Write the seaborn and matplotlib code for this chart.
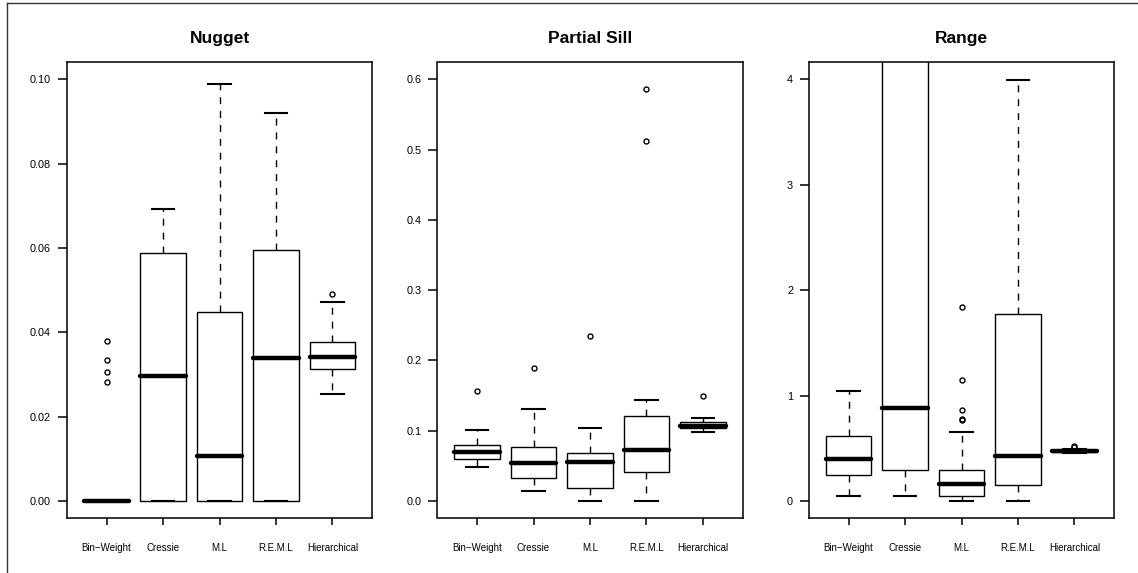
import matplotlib
matplotlib.use('Agg')
from matplotlib import pyplot as plt
from matplotlib.lines import Line2D
import seaborn as sns
import pandas as pd

methods = ['Bin\u2212Weight', 'Cressie', 'M.L', 'R.E.M.L', 'Hierarchical']

# Nugget estimates per method
nugget_bin = [0.0] * 17 + [0.0283, 0.0305, 0.0335, 0.0380]
nugget_cressie = [0.0, 0.0, 0.0, 0.012, 0.0296, 0.041, 0.0589, 0.064, 0.0692]
nugget_ml = [0.0, 0.0, 0.0, 0.004, 0.0107, 0.027, 0.0448, 0.071, 0.0988]
nugget_reml = [0.0, 0.0, 0.0, 0.016, 0.0340, 0.048, 0.0596, 0.078, 0.0921]
nugget_hier = [0.0254, 0.0285, 0.0302, 0.0314, 0.0325, 0.0334, 0.0341,
               0.0352, 0.0365, 0.0378, 0.0420, 0.0472, 0.0491]

# Partial sill estimates per method
sill_bin = [0.0483, 0.052, 0.057, 0.060, 0.063, 0.067, 0.0697,
            0.072, 0.076, 0.0795, 0.088, 0.101, 0.1573]
sill_cressie = [0.0147, 0.022, 0.028, 0.0325, 0.041, 0.049, 0.0547,
                0.062, 0.069, 0.0770, 0.095, 0.1308, 0.189]
sill_ml = [0.0, 0.006, 0.012, 0.019, 0.034, 0.047, 0.0555,
           0.060, 0.064, 0.0685, 0.085, 0.1038, 0.235]
sill_reml = [0.0, 0.018, 0.030, 0.0412, 0.052, 0.063, 0.073,
             0.088, 0.104, 0.1213, 0.1436, 0.5123, 0.5863]
sill_hier = [0.098, 0.100, 0.102, 0.1033, 0.1045, 0.1056, 0.1066,
             0.108, 0.110, 0.1118, 0.114, 0.1185, 0.1488]

# Range estimates per method
range_bin = [0.052, 0.15, 0.25, 0.33, 0.40, 0.50, 0.614, 0.82, 1.047]
range_cressie = [0.052, 0.17, 0.298, 0.56, 0.885, 2.6, 5.6, 8.1, 11.2]
range_ml = [0.0, 0.005, 0.012, 0.02, 0.028, 0.037, 0.045,
            0.065, 0.085, 0.105, 0.125, 0.145, 0.166,
            0.185, 0.205, 0.225, 0.25, 0.272, 0.294,
            0.658, 0.765, 0.78, 0.867, 1.152, 1.839]
range_reml = [0.0, 0.08, 0.152, 0.28, 0.424, 0.95, 1.772, 2.7, 3.99]
range_hier = [0.455, 0.458, 0.46, 0.462, 0.466, 0.469, 0.472,
              0.475, 0.478, 0.480, 0.49, 0.512, 0.525]


def MakeFrame(groups):
    rows = []
    for name, vals in zip(methods, groups):
        for v in vals:
            rows.append((name, v))
    return pd.DataFrame(rows, columns=['method', 'value'])


def PlotPanel(axe, pd_data, title, ylim, yticks, fmt):
    sns.boxplot(data=pd_data, x='method', y='value', order=methods, ax=axe,
                color='white', linecolor='black', linewidth=1.0, width=0.8,
                whis=1.5, fliersize=3.6,
                medianprops=dict(linewidth=3.2, solid_capstyle='round'),
                whiskerprops=dict(linestyle=(0, (5, 5))),
                capprops=dict(linewidth=1.5),
                flierprops=dict(marker='o', markerfacecolor='none',
                                markeredgecolor='black', markeredgewidth=1.0))
    axe.set_xlim(-0.7, 4.7)
    axe.set_ylim(ylim)
    axe.set_yticks(yticks)
    axe.set_yticklabels([fmt % t for t in yticks])
    axe.set_xlabel('')
    axe.set_ylabel('')
    axe.set_title(title, fontsize=12.5, fontweight='bold', pad=14)
    plt.setp(axe.spines.values(), linewidth=1.1, color='black')
    axe.xaxis.set_tick_params(direction='out', length=5, width=1.1,
                              labelsize=7, pad=13)
    axe.yaxis.set_tick_params(direction='out', length=6.5, width=1.1,
                              labelsize=7.8, pad=5)
    axe.grid(False)
    axe.set_facecolor('white')


def main():
    plt.rcParams['font.family'] = ['Liberation Sans', 'DejaVu Sans']
    fig = plt.figure(figsize=(11.38, 5.73), dpi=100)
    W, H = 1138.0, 573.0
    bottom = (H - 518.0) / H
    height = (518.0 - 62.3) / H
    width = 305.0 / W
    lefts = [67.0 / W, 437.5 / W, 809.0 / W]

    ax1 = fig.add_axes([lefts[0], bottom, width, height])
    ax2 = fig.add_axes([lefts[1], bottom, width, height])
    ax3 = fig.add_axes([lefts[2], bottom, width, height])

    PlotPanel(ax1, MakeFrame([nugget_bin, nugget_cressie, nugget_ml, nugget_reml, nugget_hier]),
              'Nugget', (-0.004, 0.104), [0.0, 0.02, 0.04, 0.06, 0.08, 0.10], '%.2f')
    PlotPanel(ax2, MakeFrame([sill_bin, sill_cressie, sill_ml, sill_reml, sill_hier]),
              'Partial Sill', (-0.024, 0.624), [0.0, 0.1, 0.2, 0.3, 0.4, 0.5, 0.6], '%.1f')
    PlotPanel(ax3, MakeFrame([range_bin, range_cressie, range_ml, range_reml, range_hier]),
              'Range', (-0.16, 4.16), [0, 1, 2, 3, 4], '%d')

    # outer frame (left and top edge of the original device region)
    fig.add_artist(Line2D([7.0 / W, 7.0 / W], [0, 1 - 3.0 / H], color='#333333',
                          linewidth=1.0, transform=fig.transFigure))
    fig.add_artist(Line2D([7.0 / W, 1], [1 - 3.0 / H, 1 - 3.0 / H], color='#333333',
                          linewidth=1.0, transform=fig.transFigure))

    plt.savefig('out.png', dpi=100)


if __name__ == '__main__':
    main()
